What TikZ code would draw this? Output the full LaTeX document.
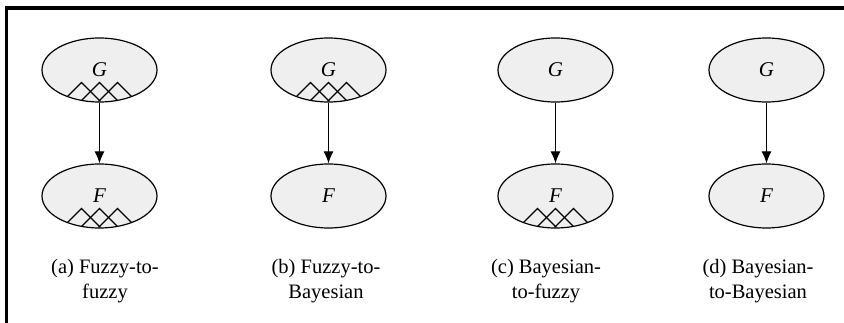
\documentclass[tikz,border=0pt]{standalone}
\usepackage{fontspec}
\setmainfont{Liberation Serif}
\usetikzlibrary{shapes.geometric,arrows.meta}
\definecolor{nodegray}{HTML}{EFEFEF}
\tikzset{
  var/.style={ellipse, draw, line width=1.2pt, fill=nodegray,
    minimum width=115pt, minimum height=64pt, inner sep=0pt,
    font=\fontsize{21}{21}\selectfont\itshape},
  link/.style={-{Latex[length=12pt,width=10pt]}, line width=1.2pt},
  captext/.style={align=center, font=\fontsize{20.5}{24.5}\selectfont},
  zig/.style={line width=1.1pt},
}
\newcommand\fuzzymark[1]{%
  \begin{scope}[shift={(#1.center)}]
    \clip (0,0) ellipse [x radius=57pt, y radius=31.5pt];
    \foreach \d in {-18,0,18}{
      \draw[zig] (\d-30,12.5+30) -- (\d,12.5) -- (\d+30,12.5+30);
    }
  \end{scope}}
\begin{document}
\begin{tikzpicture}[x=1pt,y=-1pt]
  \useasboundingbox (0,0) rectangle (844,323);
  \coordinate (frameBL) at (6.5,323);
  \coordinate (frameTL) at (6.5,8.3);
  \coordinate (frameTR) at (844,8.3);
  \draw[line width=3.6pt, line join=miter] (frameBL) -- (frameTL) -- (frameTR);

  % (a)
  \node[var] (Ga) at (99.5,70) {G};
  \node[var] (Fa) at (99.5,196) {F};
  \fuzzymark{Ga}
  \fuzzymark{Fa}
  \draw[link] (Ga) -- (Fa);
  \node[captext] (capa) at (105,281) {(a) Fuzzy-to-\\fuzzy};

  % (b)
  \node[var] (Gb) at (328.5,70) {G};
  \node[var] (Fb) at (328.5,196) {F};
  \fuzzymark{Gb}
  \draw[link] (Gb) -- (Fb);
  \node[captext] (capb) at (326,281) {(b) Fuzzy-to-\\Bayesian};

  % (c)
  \node[var] (Gc) at (555.5,70) {G};
  \node[var] (Fc) at (555.5,196) {F};
  \fuzzymark{Fc}
  \draw[link] (Gc) -- (Fc);
  \node[captext] (capc) at (546,281) {(c) Bayesian-\\to-fuzzy};

  % (d)
  \node[var] (Gd) at (766.5,70) {G};
  \node[var] (Fd) at (766.5,196) {F};
  \draw[link] (Gd) -- (Fd);
  \node[captext] (capd) at (758,281) {(d) Bayesian-\\to-Bayesian};
\end{tikzpicture}
\end{document}
